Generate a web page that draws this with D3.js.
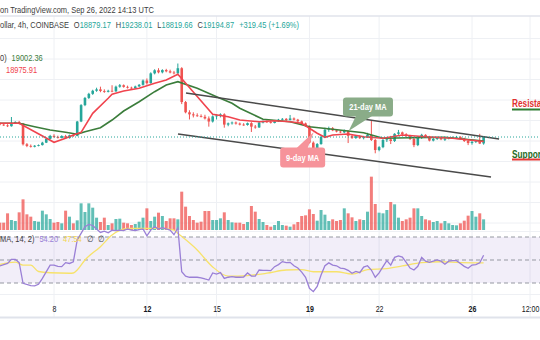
<!DOCTYPE html>
<html><head><meta charset="utf-8">
<script src="https://cdn.jsdelivr.net/npm/d3@7"></script>
<style>
html,body{margin:0;padding:0;background:#fff;}
svg{display:block;font-family:"Liberation Sans",Arial,sans-serif;}
</style></head><body>
<svg id="c" width="540" height="340"></svg>
<script>
// ---------------- DATA ----------------
const firstCandle = "2022-09-05T16:00:00Z";   // 4h candles
const opens = [19850,19800,19760,19720,19880,19930,19860,18840,18760,18720,18770,18800,18920,19100,19250,19200,19150,19240,19140,19280,19250,19950,20750,21100,21300,21450,21520,21440,21400,21450,21420,21650,21720,21640,21600,21570,21660,21740,21950,21820,22300,22450,22350,22460,22400,22340,22300,22550,20900,20400,20300,20250,20220,20180,20100,19950,20200,20250,20300,19800,19860,19900,19850,19800,19780,19870,19700,19660,19900,19950,19920,19880,19960,20040,20080,20020,20100,20040,19960,19860,19740,18920,18600,18850,19200,19550,19620,19520,19460,19420,19500,19250,19150,19240,19140,19200,19300,19050,18560,18700,19050,19080,19000,19350,19420,19330,19250,19100,18800,19150,19300,19200,19020,19100,19140,19060,19120,19150,19180,19200,19120,19000,18900,18960,19000,18879.17];
const highs = [19900,19850,19820,20170,19960,19980,19880,18900,18830,18800,18830,18960,19150,19300,19330,19260,19280,19300,19310,19330,19980,20800,21150,21350,21500,21600,21650,21520,21500,21720,21700,21780,21760,21700,21650,21700,21780,22000,22050,22350,22500,22550,22500,22520,22480,22420,22780,22600,20950,20500,20400,20350,20300,20280,20200,20250,20300,20350,20350,19900,19950,19950,19900,19870,19900,19920,19780,19950,20000,20000,19980,20000,20080,20120,20120,20270,20150,20080,20000,19900,19760,18980,18900,19250,19650,19700,19680,19580,19520,19560,19520,19300,19280,19280,19250,19400,20020,19100,18750,19100,19150,19250,19380,19540,19460,19380,19300,19150,19200,19350,19330,19250,19150,19200,19180,19150,19180,19220,19250,19230,19160,19080,19000,19050,19350,19238.01];
const lows = [19760,19730,19680,19700,19840,19820,18780,18700,18680,18690,18740,18780,18900,19080,19150,19120,19130,19100,19120,19200,19230,19920,20700,21050,21250,21400,21380,21350,21370,21380,21400,21600,21600,21560,21540,21550,21640,21700,21750,21800,22250,22300,22300,22350,22300,22250,22280,20800,20350,20050,20150,20180,20150,20050,19700,19900,20050,20150,19650,19720,19800,19800,19760,19740,19750,19440,19600,19640,19860,19880,19850,19860,19930,20000,19980,20000,20000,19920,19820,19700,18880,18450,18550,18820,19150,19450,19480,19420,19380,19380,18900,19100,19100,19100,19080,19150,19000,18400,18500,18650,18950,18850,18950,19300,19300,19200,19050,18700,18750,19100,19150,18980,18980,19050,19040,19000,19080,19100,19120,19080,18950,18800,18820,18900,18850,18819.66];
const closes = [19800,19760,19720,19880,19930,19860,18840,18760,18720,18770,18800,18920,19100,19250,19200,19150,19240,19140,19280,19250,19950,20750,21100,21300,21450,21520,21440,21400,21450,21420,21650,21720,21640,21600,21570,21660,21740,21950,21820,22300,22450,22350,22460,22400,22340,22300,22550,20900,20400,20300,20250,20220,20180,20100,19950,20200,20250,20300,19800,19860,19900,19850,19800,19780,19870,19700,19660,19900,19950,19920,19880,19960,20040,20080,20020,20100,20040,19960,19860,19740,18920,18600,18850,19200,19550,19620,19520,19460,19420,19500,19250,19150,19240,19140,19200,19300,19050,18560,18700,19050,19080,19000,19350,19420,19330,19250,19100,18800,19150,19300,19200,19020,19100,19140,19080,19120,19150,19180,19200,19120,19000,18900,18960,19000,18875.42,19194.87];
const volumes = [1100,1100,2500,1500,1350,2650,4600,2350,2000,1350,1250,2900,2350,1650,1100,1200,1000,2900,2000,1000,1450,4000,2700,4000,3350,1850,1200,1850,750,1000,1650,1700,1100,1000,750,900,1250,1850,3250,1350,2000,2600,2100,1350,1750,1750,1600,5750,3500,2100,1500,1100,1250,2850,2850,1500,1500,1750,2650,1500,1150,1100,1100,900,1200,3600,2750,1650,1200,750,
  500,750,1350,750,650,500,850,1200,2100,2200,3100,2400,1400,3000,2300,1350,1600,1350,1500,3250,2500,1900,1350,1600,1500,2750,8000,3900,2600,2500,3000,4200,3850,1850,1350,1600,1850,3250,3250,2100,1600,1450,1200,1350,1000,1350,1000,750,700,1000,1400,2150,2850,2000,2500,1600];

// moving averages (candle index -> value)
const ma9Idx = [0,5,14,17,19,21,24,28,29,32,36,40,43,46,55,59,62,67,71,75,78,82,84,86,90,94,99,104,110,117,125];
const ma9Val = [19863,19863,18937,19132,19293,19424,20351,21083,21278,21439,21571,21815,21976,22254,20302,20185,20024,19941,19990,19941,19863,19376,19180,19293,19341,19210,19132,19293,19210,19132,18975.91];
const ma21Idx = [0,5,9,13,17,20,22,26,29,32,36,40,43,46,51,56,60,62,68,75,80,86,94,99,106,115,125];
const ma21Val = [19863,19863,19698,19537,19424,19327,19454,19649,20024,20463,20917,21405,21732,21893,21571,21161,20839,20600,20059,19941,19698,19571,19405,19132,19161,19180,19002.36];

// RSI (candle index -> value)
const rsiIdx = [0,2,3,4,5,6,8,9,10,11,13,14,15,16,17,18,19,20,21,22,23,24,25,26,27,28,29,30,31,32,33,34,35,36,37,38,39,40,41,42,43,44,45,46,47,48,49,50,51,52,53,54,55,56,57,58,59,60,61,62,63,64,65,66,67,68,69,
  70,71,72,73,74,75,76,77,78,79,80,81,82,83,84,85,86,87,88,89,90,91,92,93,94,95,96,97,98,99,100,101,102,103,104,105,106,107,108,109,110,111,112,113,114,115,116,117,118,119,120,121,122,123,124,125];
const rsiVal = [44.8,47,50.6,50.6,47.7,29.7,27.7,27.5,28.9,34,45.6,45.6,44.5,44.2,47.7,47,48.5,67.4,73.2,79,81,80,77,74,75,73.7,76,75.5,76,75.5,77,76,75.5,76.5,77,71,76,79,77,78,77,76,72,78,39.8,36,35,35,35,34.5,33.5,32.6,38.7,37.8,39,34,35,35.5,35,35,35.2,38.7,36,36,41.3,41,40.9,
  40.7,44.2,46,48.6,47.7,48,45,43,39.5,35,25.4,22.5,27,37,45,47.5,45.5,45,43,42.5,41,38.4,40,39,43.8,45,41.3,35,38.8,44.2,49.4,45.6,52.3,53.5,52.5,48,43,41.3,44.5,52.3,49,48,49,50,49,46.4,49,49.4,49.4,47,44.5,42.8,45.6,46,47.5,54.2];
const rsiMaIdx = [0,4,6,8,10,13,18,19,20,22,26,29,33,38,42,45,46,51,55,59,64,69,74,78,81,87,91,95,100,104,109,114,119,125];
const rsiMaVal = [46.2,48.1,45.6,45.6,40,38.9,38.5,38.7,41.3,50,61.6,71.7,77.5,77.5,77.5,76,73.2,58.7,44,36,36.5,38.5,41.3,41.6,39.8,39.8,37.8,41.6,42.5,44.8,47.7,48.5,47.7,47.54];
const rsiLevels = [70, 50, 30];

// axis & grid
const tickDates = ["2022-09-08T00:00:00Z","2022-09-12T00:00:00Z","2022-09-15T00:00:00Z","2022-09-19T00:00:00Z","2022-09-22T00:00:00Z","2022-09-26T00:00:00Z","2022-09-28T12:00:00Z"];
const tickLabels = ["8","12","15","19","22","26","12:00"];
const priceGrid = [15000,16000,17000,18000,19000,20000,21000,22000,23000,24000];

// drawings
const upperChannel = [["2022-09-13T16:25:00Z",21340],["2022-09-27T04:00:00Z",19100]];
const lowerChannel = [["2022-09-13T08:10:00Z",19340],["2022-09-26T19:40:00Z",17245]];
const callouts = [
  {text:"21-day MA", t:"2022-09-21T12:30:00Z", p:20660, tipT:"2022-09-20T16:30:00Z", tipP:19490, kind:"g"},
  {text:"9-day MA",  t:"2022-09-18T17:00:00Z", p:18195, tipT:"2022-09-19T04:30:00Z", tipP:19440, kind:"r"}
];
const levelLabels = [
  {text:"Resistance", t:"2022-09-27T17:20:00Z", p:20640, kind:"res"},
  {text:"Support",    t:"2022-09-27T17:20:00Z", p:18195, kind:"sup"}
];

// ---------------- DRAWING ----------------
const svg = d3.select("#c");
const W = 540;
const SQ = "scale(0.83,1)";
const UP = "#26a69a", DN = "#ef5350";

const H4 = 4*3600*1000;
const t0 = new Date(firstCandle).getTime();
const data = closes.map((c,i)=>({t:new Date(t0+i*H4), o:opens[i], h:highs[i], l:lows[i], c:c, v:volumes[i]}));
const tAt = i => new Date(t0+i*H4);

const x = d3.scaleUtc().domain([new Date("2022-09-08T00:00:00Z"), new Date("2022-09-26T00:00:00Z")]).range([54,472]);
const y = d3.scaleLinear().domain([19000,20000]).range([141,120.5]);
const yv = d3.scaleLinear().domain([0,9000]).range([230,170]);
const yr = d3.scaleLinear().domain([30,70]).range([283,237]);

svg.append("rect").attr("width",540).attr("height",340).attr("fill","#fff");

const defs = svg.append("defs");
defs.append("clipPath").attr("id","pp").append("rect").attr("x",0).attr("y",16).attr("width",W).attr("height",215);
defs.append("clipPath").attr("id","rp").append("rect").attr("x",0).attr("y",222).attr("width",W).attr("height",95);

// grid
const grid = svg.append("g");
grid.selectAll("line.h").data(priceGrid).join("line")
  .attr("x1",0).attr("x2",W).attr("y1",d=>y(d)).attr("y2",d=>y(d))
  .attr("stroke","#eef0f4").attr("stroke-width",1).attr("clip-path","url(#pp)");
grid.selectAll("line.v").data(tickDates).join("line")
  .attr("x1",d=>x(new Date(d))).attr("x2",d=>x(new Date(d)))
  .attr("y1",16).attr("y2",317).attr("stroke","#eef0f4");
svg.append("line").attr("x1",0).attr("x2",W).attr("y1",16).attr("y2",16).attr("stroke","#e0e3eb").attr("stroke-width",1.5);
svg.append("line").attr("x1",0).attr("x2",W).attr("y1",231.5).attr("y2",231.5).attr("stroke","#eef0f4");
svg.append("line").attr("x1",0).attr("x2",W).attr("y1",yr(20)).attr("y2",yr(20)).attr("stroke","#eef0f4");
svg.append("line").attr("x1",0).attr("x2",W).attr("y1",317.5).attr("y2",317.5).attr("stroke","#e0e3eb").attr("stroke-width",2);

// price pane
const pp = svg.append("g").attr("clip-path","url(#pp)");
// volume
pp.append("g").selectAll("rect").data(data).join("rect")
  .attr("x",d=>x(d.t)-1.5).attr("width",3)
  .attr("y",d=>yv(d.v)).attr("height",d=>yv(0)-yv(d.v))
  .attr("fill",d=>d.c>=d.o?"rgba(38,166,154,0.72)":"rgba(239,83,80,0.75)");
// candles
const cg = pp.append("g");
cg.selectAll("line").data(data).join("line")
  .attr("x1",d=>x(d.t)).attr("x2",d=>x(d.t))
  .attr("y1",d=>y(d.h)).attr("y2",d=>y(d.l))
  .attr("stroke",d=>d.c>=d.o?UP:DN).attr("stroke-width",1);
cg.selectAll("rect").data(data).join("rect")
  .attr("x",d=>x(d.t)-1.3).attr("width",2.6)
  .attr("y",d=>y(Math.max(d.o,d.c))).attr("height",d=>Math.max(0.8,Math.abs(y(d.o)-y(d.c))))
  .attr("fill",d=>d.c>=d.o?UP:DN);
// moving averages
const maLine = d3.line().x(d=>x(tAt(d[0]))).y(d=>y(d[1]));
pp.append("path").attr("d",maLine(ma21Idx.map((k,i)=>[k,ma21Val[i]])))
  .attr("fill","none").attr("stroke","#3b7d3b").attr("stroke-width",1.6);
pp.append("path").attr("d",maLine(ma9Idx.map((k,i)=>[k,ma9Val[i]])))
  .attr("fill","none").attr("stroke","#f0444e").attr("stroke-width",1.6);
// channel
const chLine = d3.line().x(d=>x(new Date(d[0]))).y(d=>y(d[1]));
[upperChannel, lowerChannel].forEach(c=>{
  pp.append("path").attr("d",chLine(c)).attr("fill","none").attr("stroke","#4a4a4a").attr("stroke-width",1.6);
});
// last price line
const last = data[data.length-1];
pp.append("line").attr("x1",0).attr("x2",W).attr("y1",y(last.c)).attr("y2",y(last.c))
  .attr("stroke",UP).attr("stroke-dasharray","1,2").attr("stroke-width",1);

// callouts
callouts.forEach(co=>{
  const cx = x(new Date(co.t)), cy = y(co.p);
  const tx = x(new Date(co.tipT)), ty = y(co.tipP);
  const w = co.kind==="g"?50:45, h = co.kind==="g"?19:20;
  const fill = co.kind==="g" ? "#8aac88" : "#f6939a";
  const g = svg.append("g");
  if (co.kind==="g") {
    g.append("path").attr("d",`M${cx-12},${cy+h/2-0.5} L${tx},${ty} L${cx+4},${cy+h/2-0.5}Z`).attr("fill",fill);
  } else {
    g.append("path").attr("d",`M${cx-6},${cy-h/2+0.5} L${tx},${ty} L${cx+5},${cy-h/2+0.5}Z`).attr("fill",fill);
  }
  g.append("rect").attr("x",cx-w/2).attr("y",cy-h/2).attr("width",w).attr("height",h).attr("rx",3).attr("fill",fill);
  g.append("text").attr("transform",`translate(${cx},${cy+3}) ${SQ}`).attr("text-anchor","middle")
    .attr("font-size",9).attr("font-weight","bold").attr("fill","#fff").text(co.text);
});

// level labels (cut by the right edge, as in the reference)
levelLabels.forEach(l=>{
  const lx = x(new Date(l.t)), ly = y(l.p);
  svg.append("text").attr("transform",`translate(${lx},${ly}) ${SQ}`)
    .attr("font-size",10).attr("font-weight","bold")
    .attr("fill", l.kind==="res" ? "#e0302f" : "#1e6b23").text(l.text);
  svg.append("line").attr("x1",lx).attr("x2",lx+60).attr("y1",ly+2).attr("y2",ly+2)
    .attr("stroke", l.kind==="res" ? "#2e7d32" : "#e53935").attr("stroke-width",2);
});

// RSI pane
const rp = svg.append("g");
rp.append("rect").attr("x",0).attr("width",W).attr("y",yr(70)).attr("height",yr(30)-yr(70)).attr("fill","rgba(126,87,194,0.1)");
rp.selectAll("line.lv").data(rsiLevels).join("line")
  .attr("x1",0).attr("x2",W).attr("y1",d=>yr(d)).attr("y2",d=>yr(d))
  .attr("stroke","#9598a1").attr("stroke-dasharray","4,3").attr("stroke-width",1);
const rClip = rp.append("g").attr("clip-path","url(#rp)");
rClip.append("path").attr("d", d3.line().curve(d3.curveMonotoneX).x(d=>x(tAt(d[0]))).y(d=>yr(d[1]))(rsiMaIdx.map((k,i)=>[k,rsiMaVal[i]])))
  .attr("fill","none").attr("stroke","#f7e26b").attr("stroke-width",1.3);
rClip.append("path").attr("d", d3.line().x(d=>x(tAt(d[0]))).y(d=>yr(d[1]))(rsiIdx.map((k,i)=>[k,rsiVal[i]])))
  .attr("fill","none").attr("stroke","#9a7fd6").attr("stroke-width",1.3);

// time axis
const ax = svg.append("g").attr("transform","translate(0,305)")
  .call(d3.axisBottom(x).tickValues(tickDates.map(d=>new Date(d))).tickFormat((d,i)=>tickLabels[i]).tickSize(0).tickPadding(1));
ax.select(".domain").remove();
ax.selectAll("text").attr("font-size",8.5).attr("fill","#131722")
  .attr("font-family","Liberation Sans, Arial, sans-serif")
  .attr("font-weight",(d,i)=> (new Date(tickDates[i]).getUTCDay()===1 && tickLabels[i].indexOf(":")<0) ? "bold" : "normal")
  .attr("transform",SQ);

// header & legends
const fmt = d3.format(".2f");
svg.append("text").attr("transform",`translate(0,12.5) ${SQ}`).attr("font-size",9).attr("fill","#3c3c3c")
  .text("on TradingView.com, Sep 26, 2022 14:13 UTC");
const prev = data[data.length-2];
const chg = last.c - prev.c, pct = chg/prev.c*100;
const l2 = svg.append("text").attr("transform",`translate(0,28) ${SQ}`).attr("font-size",9).attr("fill","#3c3c3c");
l2.append("tspan").text("ollar, 4h, COINBASE");
[["O",last.o],["H",last.h],["L",last.l],["C",last.c]].forEach(([k,v])=>{
  l2.append("tspan").attr("dx",6).attr("fill","#3c3c3c").text(k);
  l2.append("tspan").attr("fill",UP).text(fmt(v));
});
l2.append("tspan").attr("dx",6).attr("fill",UP).text((chg>=0?"+":"")+fmt(chg)+" ("+(pct>=0?"+":"")+fmt(pct)+"%)");

const lg1 = svg.append("text").attr("transform",`translate(0,61) ${SQ}`).attr("font-size",9).attr("fill","#3c3c3c");
lg1.append("tspan").text("0)");
lg1.append("tspan").attr("dx",6).attr("fill","#3b7d3b").text(fmt(ma21Val[ma21Val.length-1]));
svg.append("text").attr("transform",`translate(6,73) ${SQ}`).attr("font-size",9).attr("fill","#f0444e")
  .text(fmt(ma9Val[ma9Val.length-1]));

const lg3 = svg.append("text").attr("transform",`translate(0,242) ${SQ}`).attr("font-size",9).attr("fill","#3c3c3c");
lg3.append("tspan").text("MA, 14, 2)");
lg3.append("tspan").attr("dx",6).attr("fill","#9a7fd6").text(fmt(rsiVal[rsiVal.length-1]));
lg3.append("tspan").attr("dx",6).attr("fill","#f2d54a").text(fmt(rsiMaVal[rsiMaVal.length-1]));
lg3.append("tspan").attr("dx",6).attr("fill","#3c3c3c").text("∅");
lg3.append("tspan").attr("dx",6).attr("fill","#3c3c3c").text("∅");
</script>
</body></html>
